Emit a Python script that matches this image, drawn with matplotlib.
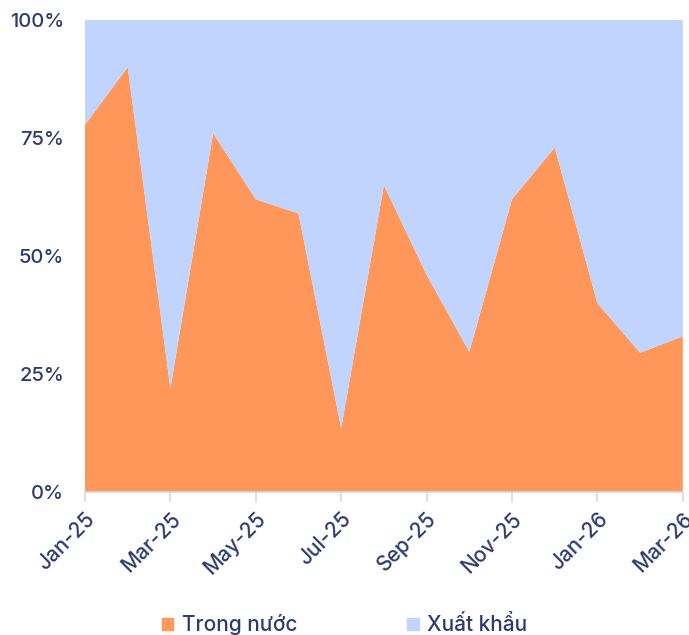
import matplotlib.pyplot as plt
from matplotlib.patches import Patch

months = ["Jan-25", "Feb-25", "Mar-25", "Apr-25", "May-25", "Jun-25", "Jul-25",
          "Aug-25", "Sep-25", "Oct-25", "Nov-25", "Dec-25", "Jan-26", "Feb-26", "Mar-26"]
trong_nuoc = [77.8, 90, 22, 76, 62, 59, 13.5, 65, 46, 29.7, 62, 73, 40, 29.5, 33]
xuat_khau = [100 - v for v in trong_nuoc]

c_orange = "#FF965A"
c_blue = "#C0D4FD"
c_text = "#2E3B6E"

plt.rcParams["font.family"] = ["Inter", "DejaVu Sans"]
plt.rcParams["font.weight"] = "medium"

fig = plt.figure(figsize=(6.89, 6.35), dpi=100)
ax = fig.add_axes([0.1234, 0.2252, 0.8676, 0.7433])

x = list(range(len(months)))
ax.stackplot(x, trong_nuoc, xuat_khau, colors=[c_orange, c_blue], linewidth=0)

ax.set_xlim(0, len(months) - 1)
ax.set_ylim(0, 100)
ax.set_yticks([0, 25, 50, 75, 100])
ax.set_yticklabels(["0%", "25%", "50%", "75%", "100%"])
ax.set_xticks(x[::2])
ax.set_xticklabels(months[::2], rotation=45, ha="right", rotation_mode="anchor")

for s in ["top", "right", "left"]:
    ax.spines[s].set_visible(False)
ax.spines["bottom"].set_color("#D9D9D9")
ax.spines["bottom"].set_linewidth(1.2)
ax.tick_params(axis="y", length=0, pad=15, labelsize=14.5, labelcolor=c_text)
ax.tick_params(axis="x", length=7, color="#D9D9D9", width=1.2, labelsize=15,
               labelcolor=c_text, pad=5)

handles = [Patch(color=c_orange, label="Trong nước"), Patch(color=c_blue, label="Xuất khẩu")]
fig.legend(handles=handles, loc="lower center", bbox_to_anchor=(0.5, -0.03), ncol=2,
           frameon=False, fontsize=15, labelcolor=c_text, handlelength=0.55,
           handleheight=0.55, columnspacing=5.3, handletextpad=0.4)

plt.savefig("out.png", dpi=100)
